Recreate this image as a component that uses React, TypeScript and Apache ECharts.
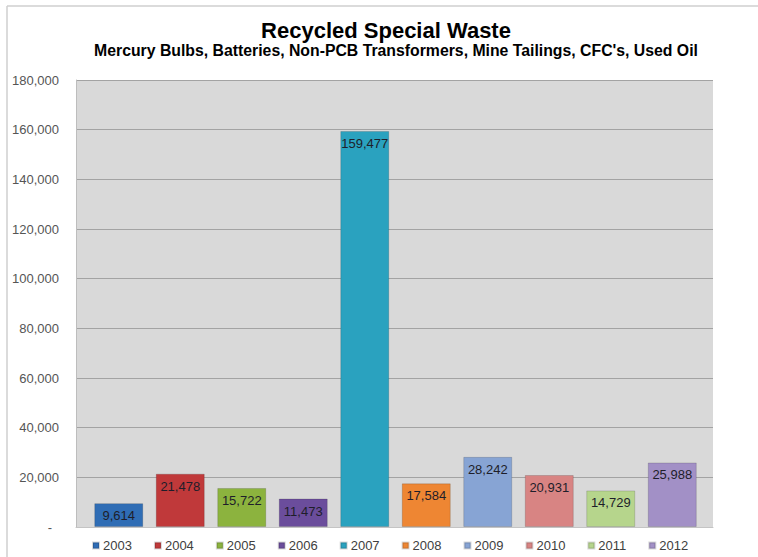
import React, { useEffect, useRef } from "react";
import * as echarts from "echarts";

const years = ["2003", "2004", "2005", "2006", "2007", "2008", "2009", "2010", "2011", "2012"];
const values = [9614, 21478, 15722, 11473, 159477, 17584, 28242, 20931, 14729, 25988];
const colors = ["#2f6db5", "#c0393a", "#8cb33e", "#6b4d9c", "#2aa2bf", "#ee8633", "#87a4d4", "#d88483", "#b6d58c", "#a290c6"];
const yTicks = { min: 0, max: 180000, interval: 20000 };
const titleText = "Recycled Special Waste";
const subtitleText = "Mercury Bulbs, Batteries, Non-PCB Transformers, Mine Tailings, CFC's, Used Oil";

const fmt = (v: number) => v.toLocaleString("en-US");

export default function App() {
  const ref = useRef<HTMLDivElement>(null);
  useEffect(() => {
    if (!ref.current) return;
    const chart = echarts.init(ref.current, undefined, { renderer: "svg" });
    const series = years.map((y, i) => ({
      name: y,
      type: "bar",
      xAxisIndex: 1,
      yAxisIndex: 1,
      stack: "all",
      barWidth: 49,
      data: years.map((_, j) => (j === i ? values[i] : "-")),
      itemStyle: {
        color: colors[i],
        borderColor: "rgba(0,0,0,0.15)",
        borderWidth: 1,
      },
      label: {
        show: true,
        position: "insideTop",
        distance: 6,
        formatter: (p: any) => fmt(p.value),
        color: "#1e1e2a",
        fontSize: 13,
        fontFamily: "Liberation Sans, Arial, sans-serif",
      },
    }));
    chart.setOption({
      animation: false,
      backgroundColor: "#ffffff",
      textStyle: { fontFamily: "Liberation Sans, Arial, sans-serif" },
      title: [
        {
          text: titleText,
          left: 381,
          textAlign: "center",
          top: 14,
          textStyle: { fontSize: 22, fontWeight: "bold", color: "#000" },
        },
        {
          text: subtitleText,
          left: 391,
          textAlign: "center",
          top: 37,
          textStyle: { fontSize: 15.8, fontWeight: "bold", color: "#000" },
        },
      ],
      legend: {
        left: 87,
        top: 534,
        itemWidth: 6,
        itemHeight: 6,
        itemGap: 22,
        icon: "rect",
        textStyle: { fontSize: 13, color: "#404040", padding: [0, 0, 0, -1] },
        data: years,
      },
      graphic: [
        { type: "line", shape: { x1: 7, y1: 6, x2: 758, y2: 6 }, style: { stroke: "#cfcfcf", lineWidth: 1.5 } },
        { type: "line", shape: { x1: 7, y1: 6, x2: 7, y2: 557 }, style: { stroke: "#cfcfcf", lineWidth: 1.5 } },
      ],
      grid: [
        { left: 76, right: 45, top: 80, bottom: 30, show: true, backgroundColor: "#d9d9d9", borderWidth: 0 },
        { left: 88, right: 55, top: 80, bottom: 30 },
      ],
      xAxis: [
        {
          type: "category",
          gridIndex: 0,
          data: [""],
          axisLine: { show: true, lineStyle: { color: "#c4c4c4" } },
          axisTick: { show: false },
          axisLabel: { show: false },
        },
        { type: "category", gridIndex: 1, data: years, show: false },
      ],
      yAxis: [
        {
          type: "value",
          gridIndex: 0,
          ...yTicks,
          axisLine: { show: true, lineStyle: { color: "#bdbdbd" } },
          axisTick: { show: false },
          splitLine: { lineStyle: { color: "#a3a3a3", width: 1.2 } },
          axisLabel: {
            margin: 17,
            fontSize: 13,
            color: "#555555",
            formatter: (v: number) => (v === 0 ? "{d|-}" : fmt(v)),
            rich: { d: { padding: [0, 7, 0, 0], fontSize: 13, color: "#555555" } },
          },
        },
        { type: "value", gridIndex: 1, ...yTicks, show: false, splitLine: { show: false } },
      ],
      series,
    });
    return () => chart.dispose();
  }, []);
  return <div ref={ref} style={{ position: "fixed", left: 0, top: 0, width: 758, height: 557 }} />;
}
